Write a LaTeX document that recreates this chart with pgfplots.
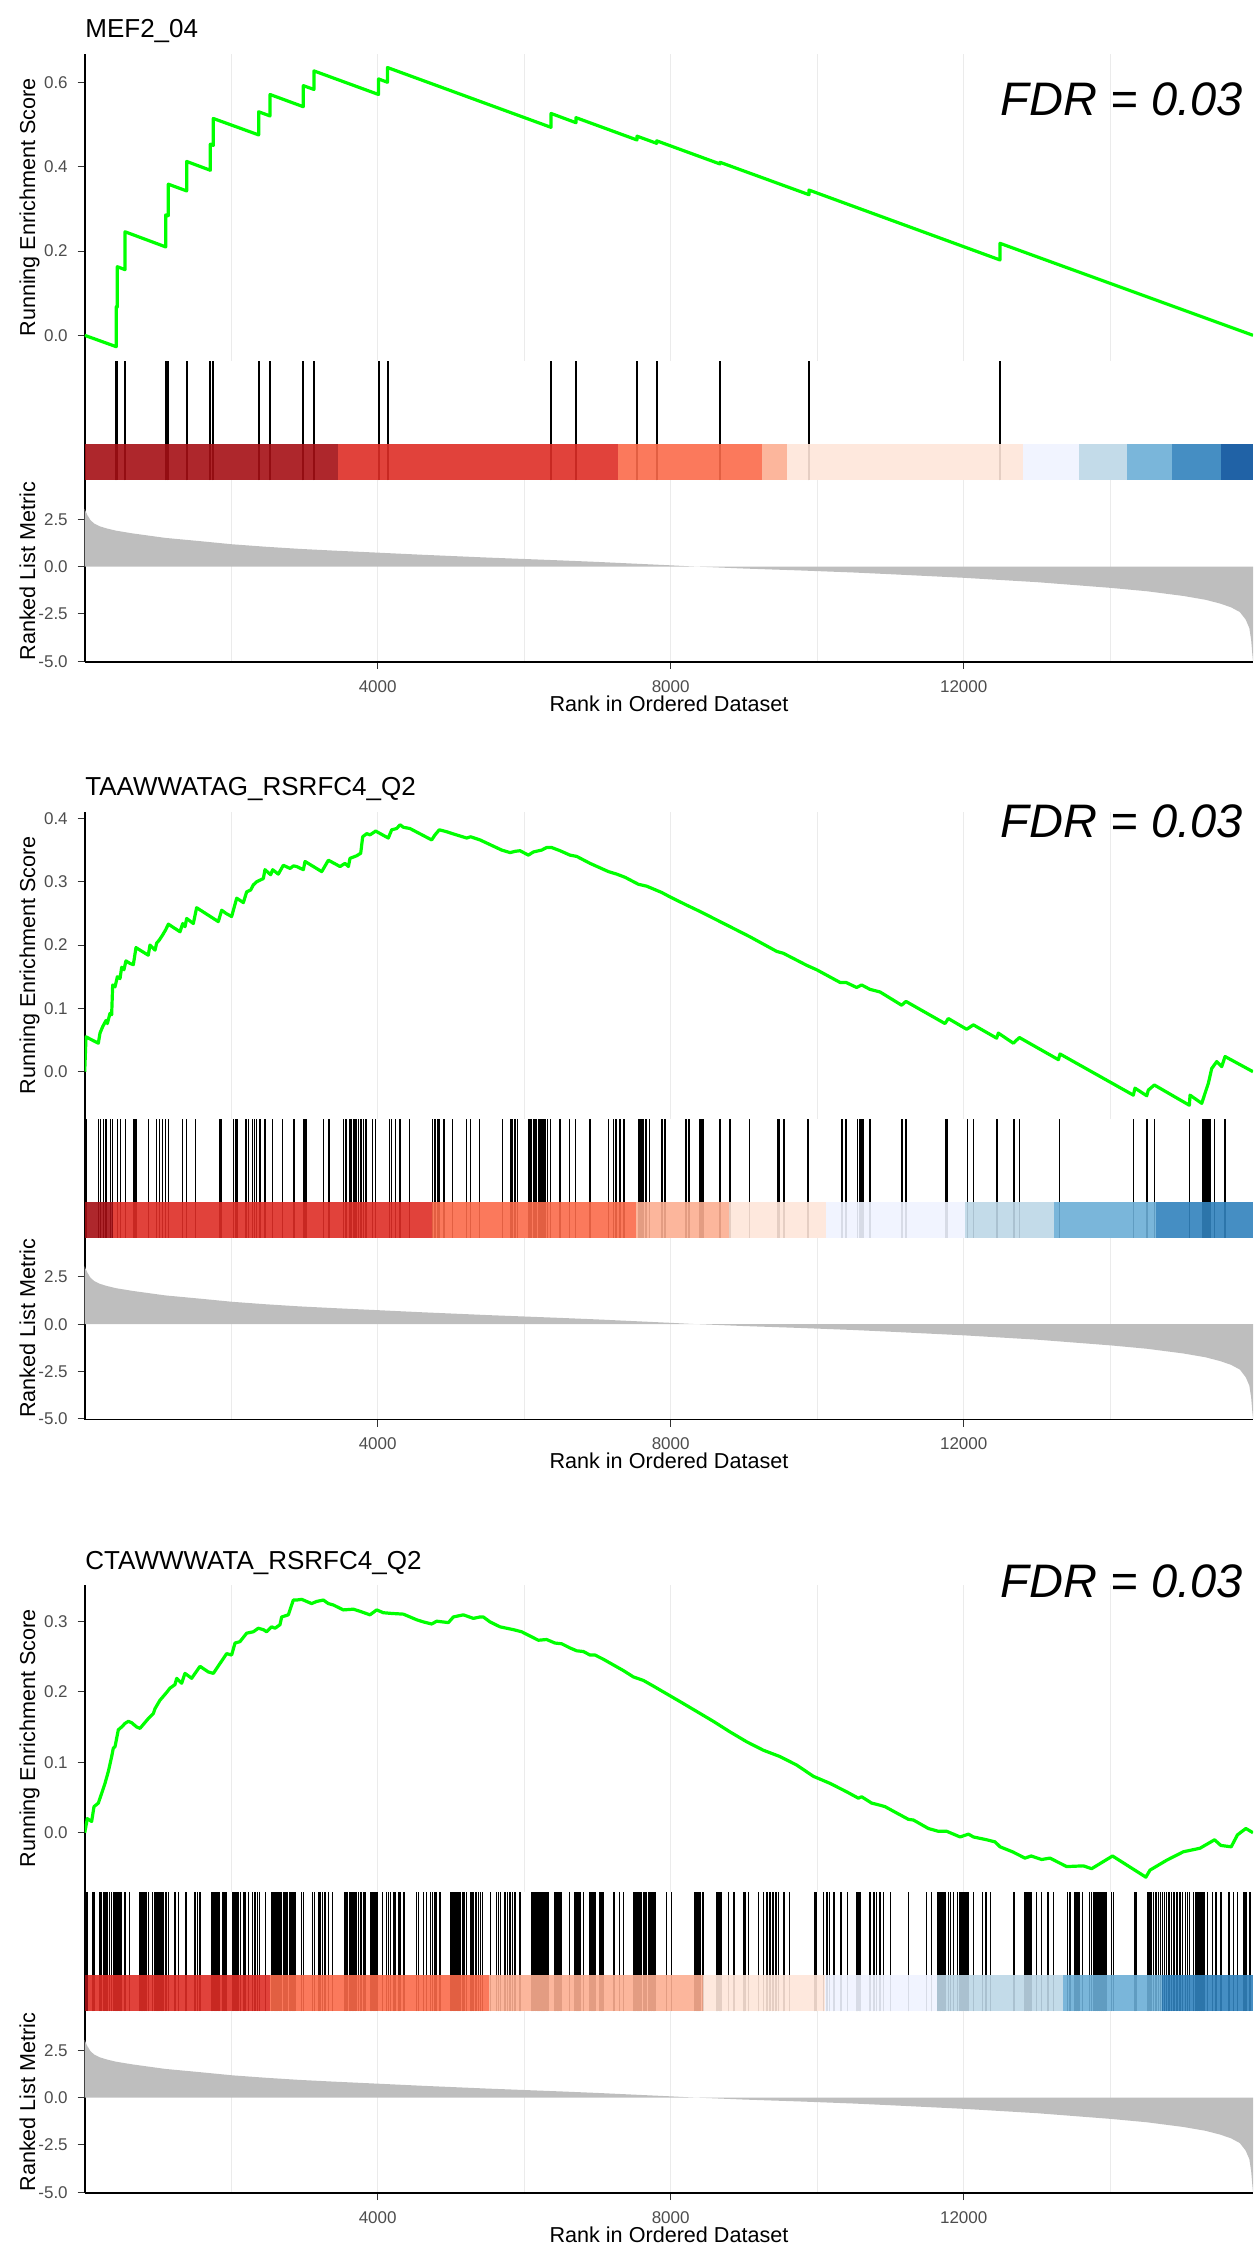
\documentclass[border=0pt]{standalone}
\usepackage{fontspec}
\setmainfont{Liberation Sans}
\usepackage{pgfplots}
\usepackage{pgfplotstable}
\pgfplotsset{compat=1.18}

\definecolor{esgreen}{HTML}{00FF00}
\definecolor{metricgrey}{HTML}{BEBEBE}
\definecolor{gridgrey}{HTML}{EBEBEB}
\definecolor{ticklab}{HTML}{4D4D4D}
\definecolor{tickmark}{HTML}{333333}
\definecolor{rd1}{HTML}{A50F15}
\definecolor{rd2}{HTML}{DE2D26}
\definecolor{rd3}{HTML}{FB6A4A}
\definecolor{rd4}{HTML}{FCAE91}
\definecolor{rd5}{HTML}{FEE5D9}
\definecolor{bu5}{HTML}{EFF3FF}
\definecolor{bu4}{HTML}{BDD7E7}
\definecolor{bu3}{HTML}{6BAED6}
\definecolor{bu2}{HTML}{3182BD}
\definecolor{bu1}{HTML}{08519C}

\pgfplotsset{
  gsea/.style={
    scale only axis, width=584.15pt, xmin=0, xmax=15950,
    scaled x ticks=false, scaled y ticks=false,
    axis lines*=left,
    axis line style={line width=0.9pt, black},
    tick align=outside,
    tick style={tickmark, line width=0.5pt},
    major tick length=3.5pt,
    tick label style={font=\fontsize{8.5}{10}\selectfont, text=ticklab},
    yticklabel style={anchor=east, inner sep=0pt, xshift=-4.8pt},
    xticklabel style={anchor=north, inner sep=0pt, yshift=-5.5pt},
    /pgf/number format/assume math mode=true,
  },
  gseagrid/.style={
    xtick={4000,8000,12000},
    minor xtick={2000,6000,10000,14000},
    xmajorgrids, xminorgrids,
    major grid style={gridgrey, line width=0.6pt},
    minor grid style={gridgrey, line width=0.6pt},
    minor tick length=0pt,
  },
  espanel/.style={gsea, gseagrid, height=153.5pt,
    x axis line style={draw=none}, xtick style={draw=none}, xticklabels={}},
  hitpanel/.style={gsea, height=59.5pt, ymin=0, ymax=1,
    xtick=\empty, ytick=\empty, x axis line style={draw=none}},
  rankpanel/.style={gsea, gseagrid, height=91pt, ymin=-5.04, ymax=4.58,
    ytick={-5,-2.5,0,2.5}, yticklabels={-5.0,-2.5,0.0,2.5},
    xticklabels={4000,8000,12000}},
  esline/.style={esgreen, line width=1.6pt, line join=round, mark=none},
  hitline/.style={ycomb, black, line width=0.8pt, mark=none},
}

% one coloured block of the rank bar
\newcommand{\seg}[3]{\addplot[draw=none, fill=#1, fill opacity=0.9] coordinates {(#2,0) (#3,0) (#3,0.3025) (#2,0.3025)};}

% ranked list metric (same list for all three sets)
\pgfplotstableread{
rank metric
0 0
0 3.05
15 2.9
40 2.7
80 2.45
130 2.28
200 2.14
300 2.02
430 1.9
650 1.76
1100 1.52
1570 1.35
2020 1.18
2480 1.05
2930 0.94
3390 0.85
4000 0.74
4600 0.63
5500 0.48
6500 0.33
7000 0.25
7500 0.16
8000 0.07
8300 0.01
8500 -0.02
9000 -0.1
9760 -0.2
10500 -0.31
11000 -0.4
12000 -0.59
13000 -0.82
14000 -1.12
14500 -1.3
15000 -1.55
15300 -1.75
15500 -1.95
15650 -2.15
15770 -2.4
15850 -2.8
15900 -3.25
15925 -3.9
15940 -4.6
15950 -5.0
15950 0
}\metric

\begin{document}
\begin{tikzpicture}
\useasboundingbox (0,0) rectangle (626.5pt,-1123pt);

% ---------------- MEF2_04 ----------------
\begin{axis}[espanel, at={(42.35pt,-27pt)}, anchor=north west,
  ymin=-0.0610, ymax=0.6682, ytick={0,0.2,0.4,0.6}, yticklabels={0.0,0.2,0.4,0.6}]
\addplot[esline] coordinates {
(0,0) (431,-0.027) (431,0.068) (445,0.067) (445,0.163) (550,0.156) (550,0.246)
(1106,0.210) (1106,0.286) (1141,0.284) (1141,0.359) (1392,0.343) (1392,0.413)
(1715,0.392) (1715,0.454) (1756,0.451) (1756,0.515) (2375,0.476) (2375,0.531)
(2530,0.521) (2530,0.572) (2984,0.543) (2984,0.593) (3130,0.584) (3130,0.628)
(4011,0.572) (4011,0.609) (4134,0.601) (4134,0.636) (6366,0.494) (6366,0.527)
(6707,0.505) (6707,0.517) (7540,0.464) (7540,0.473) (7809,0.456) (7809,0.462)
(8673,0.407) (8673,0.411) (9888,0.334) (9888,0.345) (12496,0.179) (12496,0.2185)
(15950,0.0)};
\end{axis}
\begin{axis}[hitpanel, at={(42.35pt,-180.5pt)}, anchor=north west]
\addplot[hitline, line width=1pt] coordinates {
(431,1) (445,1) (550,1) (1106,1) (1141,1) (1392,1) (1715,1) (1756,1) (2375,1) (2530,1)
(2984,1) (3130,1) (4011,1) (4134,1) (6366,1) (6707,1) (7540,1) (7809,1) (8673,1) (9888,1)
(12496,1)};
\seg{rd1}{0}{3458}
\seg{rd2}{3458}{7277}
\seg{rd3}{7277}{9246}
\seg{rd4}{9246}{9583}
\seg{rd5}{9583}{12814}
\seg{bu5}{12814}{13574}
\seg{bu4}{13574}{14233}
\seg{bu3}{14233}{14844}
\seg{bu2}{14844}{15509}
\seg{bu1}{15509}{15950}
\end{axis}
\begin{axis}[rankpanel, at={(42.35pt,-240pt)}, anchor=north west]
\addplot[fill=metricgrey, draw=none] table {\metric};
\end{axis}

% ---------------- TAAWWATAG_RSRFC4_Q2 ----------------
\begin{axis}[espanel, at={(42.35pt,-405.75pt)}, anchor=north west,
  ymin=-0.0739, ymax=0.4109, ytick={0,0.1,0.2,0.3,0.4}, yticklabels={0.0,0.1,0.2,0.3,0.4}]
\addplot[esline] coordinates {
(0,0) (18,0.055) (186,0.045) (209,0.061) (245,0.071) (291,0.081) (309,0.076) (345,0.092)
(368,0.090) (382,0.137) (414,0.134) (446,0.150) (482,0.147) (505,0.165) (536,0.161)
(563,0.175) (618,0.171) (664,0.169) (700,0.196) (755,0.192) (868,0.184) (891,0.200)
(960,0.192) (982,0.203) (1019,0.208) (1064,0.216) (1105,0.224) (1142,0.233) (1301,0.221)
(1338,0.234) (1370,0.229) (1392,0.242) (1483,0.234) (1528,0.259) (1824,0.237) (1870,0.255)
(1929,0.250) (2006,0.245) (2075,0.274) (2166,0.267) (2211,0.284) (2266,0.287) (2302,0.295)
(2348,0.300) (2439,0.305) (2461,0.319) (2539,0.311) (2566,0.319) (2643,0.312) (2712,0.326)
(2803,0.321) (2849,0.325) (2894,0.324) (2985,0.319) (3008,0.332) (3236,0.316) (3327,0.334)
(3486,0.324) (3554,0.329) (3600,0.324) (3622,0.337) (3668,0.339) (3713,0.341) (3768,0.345)
(3795,0.371) (3850,0.376) (3895,0.374) (3972,0.380) (4145,0.369) (4191,0.382) (4259,0.384)
(4305,0.390) (4350,0.386) (4441,0.384) (4737,0.366) (4782,0.374) (4841,0.382) (4941,0.379)
(5019,0.376) (5215,0.369) (5269,0.371) (5397,0.366) (5693,0.350) (5807,0.346) (5875,0.348)
(5943,0.349) (6057,0.342) (6125,0.347) (6239,0.350) (6307,0.354) (6375,0.354) (6489,0.349)
(6626,0.342) (6717,0.340) (6899,0.329) (7150,0.316) (7264,0.312) (7377,0.307) (7559,0.296)
(7672,0.293) (7878,0.283) (7991,0.276) (8219,0.263) (8401,0.253) (8674,0.237) (8811,0.229)
(9083,0.213) (9447,0.190) (9538,0.187) (9857,0.168) (9993,0.161) (10312,0.141) (10393,0.141)
(10539,0.133) (10607,0.137) (10721,0.130) (10857,0.126) (11153,0.105) (11212,0.111)
(11745,0.076) (11790,0.084) (12041,0.067) (12132,0.074) (12450,0.053) (12473,0.061)
(12678,0.045) (12760,0.054) (13293,0.019) (13315,0.028) (14316,-0.037) (14339,-0.026)
(14499,-0.038) (14521,-0.029) (14603,-0.021) (15081,-0.053) (15090,-0.037) (15250,-0.050)
(15295,-0.034) (15341,-0.018) (15386,0.005) (15455,0.016) (15523,0.008) (15568,0.024)
(15950,0.0)};
\end{axis}
\begin{axis}[hitpanel, at={(42.35pt,-559.25pt)}, anchor=north west]
\addplot[hitline] coordinates {
(18,1) (186,1) (218,1) (254,1) (291,1) (354,1) (382,1) (446,1) (491,1) (555,1) (673,1) (700,1)
(873,1) (982,1) (1019,1) (1064,1) (1105,1) (1142,1) (1333,1) (1392,1) (1510,1) (1838,1) (1861,1)
(2029,1) (2066,1) (2084,1) (2202,1) (2234,1) (2289,1) (2316,1) (2348,1) (2393,1) (2461,1) (2566,1)
(2703,1) (2857,1) (2994,1) (3021,1) (3258,1) (3335,1) (3531,1) (3567,1) (3622,1) (3645,1) (3667,1)
(3690,1) (3713,1) (3736,1) (3768,1) (3804,1) (3840,1) (3931,1) (3972,1) (4159,1) (4191,1) (4241,1)
(4296,1) (4314,1) (4432,1) (4750,1) (4782,1) (4814,1) (4841,1) (4905,1) (5019,1) (5215,1) (5269,1)
(5388,1) (5706,1) (5816,1) (5843,1) (5875,1) (5910,1) (6057,1) (6079,1) (6102,1) (6125,1) (6148,1)
(6170,1) (6193,1) (6216,1) (6239,1) (6261,1) (6284,1) (6316,1) (6361,1) (6489,1) (6616,1) (6703,1)
(6899,1) (7150,1) (7218,1) (7254,1) (7309,1) (7363,1) (7559,1) (7582,1) (7605,1) (7628,1) (7664,1)
(7710,1) (7878,1) (7924,1) (8211,1) (8247,1) (8402,1) (8425,1) (8439,1) (8675,1) (8812,1) (9076,1)
(9463,1) (9486,1) (9550,1) (9873,1) (10338,1) (10397,1) (10552,1) (10579,1) (10597,1) (10624,1)
(10725,1) (11157,1) (11214,1) (11762,1) (11779,1) (12052,1) (12132,1) (12451,1) (12683,1) (12761,1)
(13306,1) (14316,1) (14499,1) (14603,1) (15081,1) (15264,1) (15295,1) (15318,1) (15341,1) (15364,1)
(15423,1) (15568,1)};
\seg{rd1}{0}{391}
\seg{rd2}{391}{4737}
\seg{rd3}{4737}{7526}
\seg{rd4}{7526}{8800}
\seg{rd5}{8800}{10120}
\seg{bu5}{10120}{12018}
\seg{bu4}{12018}{13233}
\seg{bu3}{13233}{14625}
\seg{bu2}{14625}{15950}
\end{axis}
\begin{axis}[rankpanel, at={(42.35pt,-618.75pt)}, anchor=north west]
\addplot[fill=metricgrey, draw=none] table {\metric};
\end{axis}

% ---------------- CTAWWWATA_RSRFC4_Q2 ----------------
\begin{axis}[espanel, at={(42.35pt,-792.5pt)}, anchor=north west,
  ymin=-0.0841, ymax=0.3513, ytick={0,0.1,0.2,0.3}, yticklabels={0.0,0.1,0.2,0.3}]
\addplot[esline] coordinates {
(0,0) (36,0.020) (95,0.016) (127,0.037) (186,0.042) (232,0.056) (277,0.070) (323,0.087)
(368,0.108) (391,0.120) (414,0.122) (459,0.146) (505,0.150) (550,0.155) (596,0.158) (641,0.156)
(709,0.150) (755,0.148) (869,0.162) (937,0.169) (960,0.176) (1028,0.188) (1119,0.199)
(1164,0.205) (1232,0.210) (1256,0.219) (1324,0.212) (1369,0.226) (1460,0.219) (1574,0.236)
(1688,0.228) (1756,0.226) (1847,0.240) (1938,0.254) (2006,0.252) (2052,0.269) (2120,0.271)
(2211,0.283) (2302,0.285) (2370,0.290) (2439,0.288) (2484,0.285) (2552,0.292) (2598,0.290)
(2666,0.295) (2689,0.306) (2780,0.309) (2848,0.330) (2894,0.330) (2962,0.331) (3030,0.328)
(3098,0.325) (3167,0.328) (3258,0.330) (3326,0.325) (3394,0.323) (3531,0.316) (3668,0.317)
(3759,0.314) (3895,0.309) (3986,0.316) (4077,0.312) (4191,0.311) (4350,0.310) (4532,0.302)
(4623,0.299) (4737,0.296) (4805,0.300) (4965,0.298) (5033,0.306) (5169,0.309) (5306,0.304)
(5397,0.306) (5442,0.306) (5533,0.299) (5670,0.292) (5852,0.288) (5965,0.285) (6079,0.279)
(6193,0.273) (6306,0.274) (6420,0.269) (6511,0.268) (6626,0.262) (6717,0.258) (6808,0.257)
(6899,0.252) (6967,0.252) (7081,0.246) (7217,0.238) (7354,0.230) (7490,0.221) (7627,0.216)
(7763,0.208) (7945,0.197) (8127,0.186) (8355,0.172) (8582,0.158) (8810,0.143) (9037,0.129)
(9265,0.117) (9492,0.108) (9720,0.096) (9948,0.080) (10175,0.070) (10403,0.058) (10562,0.049)
(10607,0.051) (10744,0.042) (10858,0.039) (10926,0.037) (11085,0.028) (11245,0.019)
(11314,0.018) (11518,0.006) (11655,0.002) (11769,0.002) (11951,-0.006) (12065,-0.002)
(12133,-0.006) (12315,-0.010) (12429,-0.013) (12497,-0.020) (12666,-0.027) (12837,-0.036)
(12922,-0.033) (13064,-0.038) (13178,-0.036) (13406,-0.048) (13634,-0.047) (13747,-0.051)
(14032,-0.033) (14487,-0.063) (14544,-0.053) (14771,-0.039) (14999,-0.027) (15226,-0.022)
(15425,-0.010) (15510,-0.018) (15652,-0.020) (15738,-0.003) (15852,0.006) (15950,0.0)};
\end{axis}
\begin{axis}[hitpanel, at={(42.35pt,-946pt)}, anchor=north west]
\addplot[hitline] coordinates {
(18,1) (36,1) (109,1) (127,1) (200,1) (218,1) (232,1) (254,1) (277,1) (295,1) (309,1) (336,1)
(368,1) (400,1) (418,1) (436,1) (455,1) (473,1) (491,1) (505,1) (550,1) (609,1) (755,1) (778,1)
(800,1) (823,1) (846,1) (869,1) (928,1) (960,1) (978,1) (996,1) (1014,1) (1028,1) (1050,1)
(1073,1) (1110,1) (1142,1) (1233,1) (1278,1) (1383,1) (1506,1) (1538,1) (1574,1) (1733,1)
(1751,1) (1770,1) (1788,1) (1806,1) (1824,1) (1843,1) (1884,1) (1915,1) (1938,1) (2020,1)
(2038,1) (2057,1) (2075,1) (2093,1) (2129,1) (2166,1) (2189,1) (2234,1) (2293,1) (2325,1)
(2357,1) (2384,1) (2470,1) (2552,1) (2570,1) (2589,1) (2607,1) (2620,1) (2643,1) (2666,1)
(2689,1) (2712,1) (2730,1) (2748,1) (2766,1) (2802,1) (2820,1) (2839,1) (2857,1) (2875,1)
(2962,1) (2985,1) (3112,1) (3135,1) (3190,1) (3213,1) (3249,1) (3281,1) (3326,1) (3385,1)
(3554,1) (3577,1) (3613,1) (3632,1) (3659,1) (3677,1) (3704,1) (3736,1) (3768,1) (3804,1)
(3827,1) (3904,1) (3922,1) (3940,1) (3958,1) (3977,1) (3995,1) (4068,1) (4122,1) (4145,1)
(4177,1) (4214,1) (4236,1) (4282,1) (4305,1) (4350,1) (4364,1) (4532,1) (4555,1) (4623,1)
(4669,1) (4723,1) (4746,1) (4782,1) (4805,1) (4851,1) (4996,1) (5015,1) (5033,1) (5051,1)
(5069,1) (5088,1) (5106,1) (5124,1) (5160,1) (5179,1) (5215,1) (5269,1) (5288,1) (5306,1)
(5342,1) (5374,1) (5406,1) (5433,1) (5542,1) (5624,1) (5647,1) (5679,1) (5738,1) (5770,1)
(5806,1) (5843,1) (5875,1) (5934,1) (5952,1) (6102,1) (6120,1) (6133,1) (6161,1) (6179,1)
(6197,1) (6215,1) (6234,1) (6252,1) (6270,1) (6288,1) (6306,1) (6329,1) (6420,1) (6438,1)
(6457,1) (6475,1) (6493,1) (6511,1) (6616,1) (6694,1) (6712,1) (6730,1) (6748,1) (6762,1)
(6808,1) (6899,1) (6917,1) (6935,1) (6944,1) (6967,1) (7035,1) (7054,1) (7072,1) (7226,1)
(7299,1) (7354,1) (7490,1) (7509,1) (7527,1) (7545,1) (7563,1) (7582,1) (7604,1) (7627,1)
(7650,1) (7672,1) (7695,1) (7718,1) (7741,1) (7763,1) (7786,1) (7945,1) (8013,1) (8332,1)
(8350,1) (8369,1) (8387,1) (8400,1) (8437,1) (8628,1) (8646,1) (8664,1) (8683,1) (8787,1)
(8864,1) (8992,1) (9015,1) (9060,1) (9197,1) (9265,1) (9311,1) (9356,1) (9393,1) (9438,1)
(9470,1) (9547,1) (9620,1) (9970,1) (9993,1) (10084,1) (10130,1) (10166,1) (10230,1) (10321,1)
(10412,1) (10539,1) (10557,1) (10575,1) (10594,1) (10721,1) (10776,1) (10812,1) (10858,1)
(10903,1) (11003,1) (11245,1) (11494,1) (11563,1) (11640,1) (11658,1) (11676,1) (11694,1)
(11713,1) (11731,1) (11745,1) (11790,1) (11822,1) (11859,1) (11914,1) (11950,1) (11969,1)
(11987,1) (12005,1) (12023,1) (12042,1) (12065,1) (12133,1) (12259,1) (12305,1) (12368,1)
(12683,1) (12837,1) (12865,1) (12894,1) (12922,1) (12996,1) (13064,1) (13150,1) (13224,1)
(13417,1) (13451,1) (13519,1) (13548,1) (13576,1) (13622,1) (13718,1) (13747,1) (13775,1)
(13804,1) (13832,1) (13861,1) (13889,1) (13917,1) (13946,1) (14020,1) (14043,1) (14333,1)
(14350,1) (14515,1) (14532,1) (14555,1) (14589,1) (14629,1) (14657,1) (14686,1) (14714,1)
(14743,1) (14771,1) (14799,1) (14839,1) (14873,1) (14913,1) (14953,1) (14987,1) (15027,1)
(15055,1) (15084,1) (15140,1) (15169,1) (15197,1) (15226,1) (15254,1) (15283,1) (15328,1)
(15396,1) (15442,1) (15510,1) (15624,1) (15681,1) (15738,1) (15823,1) (15852,1) (15909,1)};
\seg{rd1}{0}{50}
\seg{rd2}{50}{2530}
\seg{rd3}{2530}{5517}
\seg{rd4}{5517}{8437}
\seg{rd5}{8437}{10106}
\seg{bu5}{10106}{11640}
\seg{bu4}{11640}{13349}
\seg{bu3}{13349}{14714}
\seg{bu2}{14714}{15950}
\end{axis}
\begin{axis}[rankpanel, at={(42.35pt,-1005.5pt)}, anchor=north west]
\addplot[fill=metricgrey, draw=none] table {\metric};
\end{axis}

% ---------------- text ----------------
\begin{scope}[font=\fontsize{13}{15}\selectfont]
\node[anchor=base west, inner sep=0pt] at (42.5pt,-19pt) {MEF2\_04};
\node[anchor=base west, inner sep=0pt] at (42.5pt,-397.75pt) {TAAWWATAG\_RSRFC4\_Q2};
\node[anchor=base west, inner sep=0pt] at (42.5pt,-784.5pt) {CTAWWWATA\_RSRFC4\_Q2};
\end{scope}
\begin{scope}[font=\fontsize{23.5}{28}\selectfont\itshape]
\node[anchor=base east, inner sep=0pt] at (621.5pt,-58pt) {FDR = 0.03};
\node[anchor=base east, inner sep=0pt] at (621.5pt,-418.5pt) {FDR = 0.03};
\node[anchor=base east, inner sep=0pt] at (621.5pt,-798.5pt) {FDR = 0.03};
\end{scope}
\begin{scope}[font=\fontsize{10.8}{13}\selectfont]
\node[rotate=90, anchor=base, inner sep=0pt] at (17.5pt,-103.75pt) {Running Enrichment Score};
\node[rotate=90, anchor=base, inner sep=0pt] at (17.5pt,-285.5pt) {Ranked List Metric};
\node[anchor=base, inner sep=0pt] at (334.5pt,-355.5pt) {Rank in Ordered Dataset};
\node[rotate=90, anchor=base, inner sep=0pt] at (17.5pt,-482.5pt) {Running Enrichment Score};
\node[rotate=90, anchor=base, inner sep=0pt] at (17.5pt,-664.25pt) {Ranked List Metric};
\node[anchor=base, inner sep=0pt] at (334.5pt,-734.25pt) {Rank in Ordered Dataset};
\node[rotate=90, anchor=base, inner sep=0pt] at (17.5pt,-869.25pt) {Running Enrichment Score};
\node[rotate=90, anchor=base, inner sep=0pt] at (17.5pt,-1051pt) {Ranked List Metric};
\node[anchor=base, inner sep=0pt] at (334.5pt,-1121pt) {Rank in Ordered Dataset};
\end{scope}
\end{tikzpicture}
\end{document}
